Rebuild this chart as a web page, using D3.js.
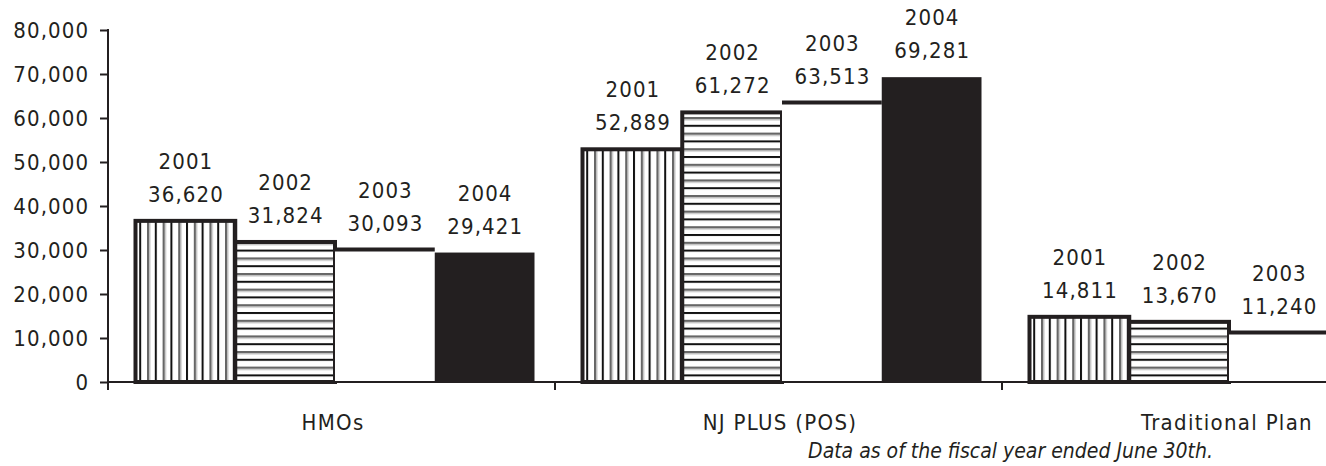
<!DOCTYPE html>
<html><head><meta charset="utf-8">
<script src="https://cdn.jsdelivr.net/npm/d3@7"></script>
<style>
html,body{margin:0;padding:0;background:#fff;}
svg{display:block;font-family:"DejaVu Sans Condensed","DejaVu Sans",sans-serif;font-stretch:condensed;}
</style></head>
<body><svg id="chart" width="1326" height="466"></svg>
<script>
const categories = ["HMOs", "NJ PLUS (POS)", "Traditional Plan"];
const years = ["2001", "2002", "2003", "2004"];
const hmoValues = [36620, 31824, 30093, 29421];
const njPlusValues = [52889, 61272, 63513, 69281];
const traditionalValues = [14811, 13670, 11240, null];
const yTicks = [0, 10000, 20000, 30000, 40000, 50000, 60000, 70000, 80000];
const footnote = "Data as of the fiscal year ended June 30th.";

const seriesByCat = [hmoValues, njPlusValues, traditionalValues];
const ink = "#231f20";
const svg = d3.select("#chart");
const FS = 22;
const LS = 1.1;

const defs = svg.append("defs");
const P = 15.6;
const pv = defs.append("pattern").attr("id","vstripe").attr("patternUnits","userSpaceOnUse")
  .attr("width",P).attr("height",P);
pv.append("rect").attr("width",P).attr("height",P).attr("fill","#fff");
pv.append("rect").attr("x",0).attr("width",2).attr("height",P).attr("fill","#111");
pv.append("rect").attr("x",7.8).attr("width",2).attr("height",P).attr("fill","#666");
pv.append("rect").attr("x",9.8).attr("width",1.4).attr("height",P).attr("fill","#bbb");
const ph = defs.append("pattern").attr("id","hstripe").attr("patternUnits","userSpaceOnUse")
  .attr("width",P).attr("height",P);
ph.append("rect").attr("width",P).attr("height",P).attr("fill","#fff");
ph.append("rect").attr("y",0).attr("height",2).attr("width",P).attr("fill","#111");
ph.append("rect").attr("y",7.8).attr("height",2).attr("width",P).attr("fill","#666");
ph.append("rect").attr("y",9.8).attr("height",1.4).attr("width",P).attr("fill","#bbb");

const fills = ["url(#vstripe)", "url(#hstripe)", "#fff", ink];

const y = d3.scaleLinear().domain([0, 80000]).range([382, 30]);
const x0 = d3.scaleBand().domain(categories).range([108, 108 + 3*447]);
const x1 = d3.scaleBand().domain(years).range([27.5, 426.5]);

const plot = svg.append("g");

svg.append("line").attr("x1",108).attr("x2",1326).attr("y1",y(0)).attr("y2",y(0))
  .attr("stroke",ink).attr("stroke-width",2);

const fmt = d3.format(",");
categories.forEach((c, ci) => {
  const g = plot.append("g").attr("transform", `translate(${x0(c)},0)`);
  seriesByCat[ci].forEach((v, yi) => {
    if (v == null) return;
    const bx = x1(years[yi]), bw = x1.bandwidth();
    const r = g.append("rect").attr("x", bx).attr("y", y(v))
      .attr("width", bw).attr("height", y(0) - y(v))
      .attr("fill", fills[yi]);
    if (yi < 2) r.attr("stroke", ink).attr("stroke-width", 4);
    if (yi === 2) g.append("line").attr("x1", bx).attr("x2", bx + bw)
      .attr("y1", y(v)).attr("y2", y(v)).attr("stroke", ink).attr("stroke-width", 4);
    const cx = bx + bw/2 + LS/2;
    g.append("text").attr("x", cx).attr("y", y(v) - 19).attr("text-anchor","middle")
      .attr("font-size", FS).attr("letter-spacing", LS).attr("fill", ink).text(fmt(v));
    g.append("text").attr("x", cx).attr("y", y(v) - 52).attr("text-anchor","middle")
      .attr("font-size", FS).attr("letter-spacing", LS).attr("fill", ink).text(years[yi]);
  });
});

const yAxis = d3.axisLeft(y).tickValues(yTicks).tickFormat(fmt)
  .tickSize(8).tickSizeOuter(0).tickPadding(12 - LS);
const ya = svg.append("g").attr("transform","translate(108,0)").call(yAxis);
ya.select(".domain").remove();
ya.selectAll("line").attr("stroke", ink).attr("stroke-width", 2);
ya.selectAll("text").attr("font-size", FS).attr("letter-spacing", LS).attr("fill", ink);
ya.attr("font-family", null).attr("font-size", null);
svg.append("line").attr("x1",108).attr("x2",108).attr("y1",y(80000)-1).attr("y2",y(0)+8)
  .attr("stroke",ink).attr("stroke-width",2);

categories.forEach(c => {
  const xx = x0(c);
  if (xx > 108) svg.append("line").attr("x1",xx).attr("x2",xx).attr("y1",y(0)).attr("y2",y(0)+8)
    .attr("stroke",ink).attr("stroke-width",2);
  svg.append("text").attr("x", xx + x0.bandwidth()/2 + 1.5).attr("y", 430)
    .attr("text-anchor","middle").attr("font-size",FS).attr("letter-spacing",1.3)
    .attr("fill",ink).text(c);
});

svg.append("text").attr("x", 1213).attr("y", 458).attr("text-anchor","end")
  .attr("font-size",21).attr("font-style","italic").attr("fill",ink).text(footnote);
</script></body></html>
